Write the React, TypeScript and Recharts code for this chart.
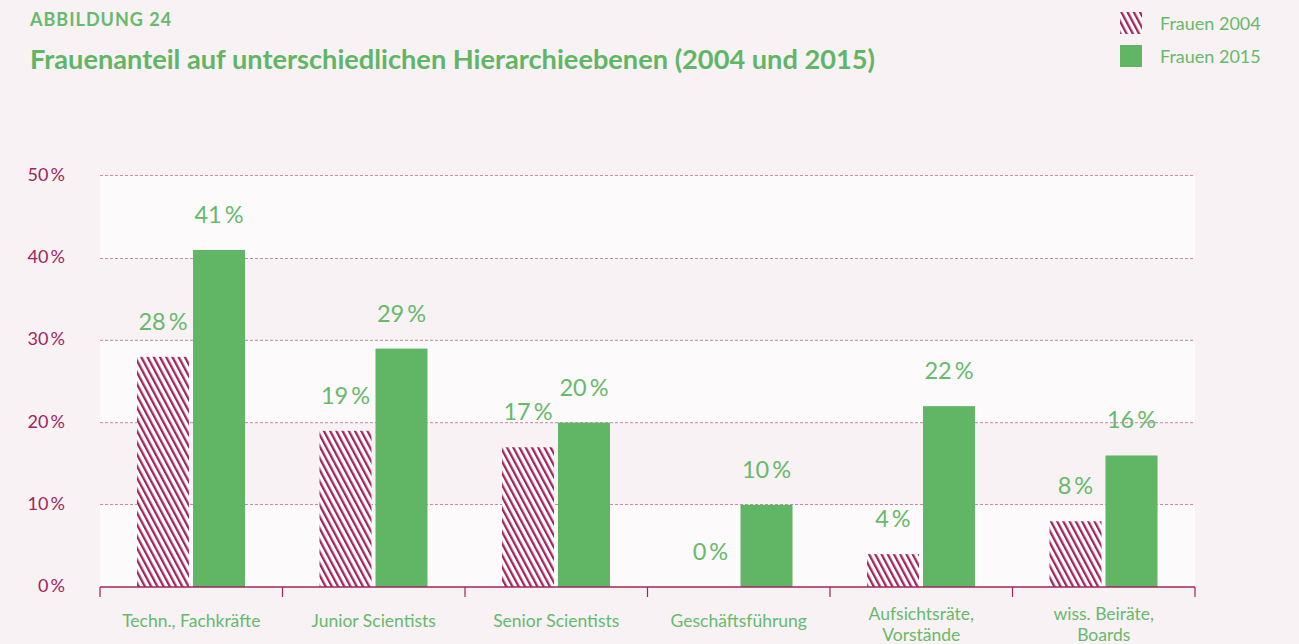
import React from 'react';
import {
  BarChart,
  Bar,
  XAxis,
  YAxis,
  CartesianGrid,
  ReferenceArea,
} from 'recharts';

const categories = [
  'Techn., Fachkräfte',
  'Junior Scientists',
  'Senior Scientists',
  'Geschäftsführung',
  'Aufsichtsräte,\nVorstände',
  'wiss. Beiräte,\nBoards',
];
const frauen2004 = [28, 19, 17, 0, 4, 8];
const frauen2015 = [41, 29, 20, 10, 22, 16];
const yTicks = [0, 10, 20, 30, 40, 50];
const lightBands: [number, number][] = [
  [0, 10],
  [20, 30],
  [40, 50],
];

const GREEN = '#60b664';
const GREEN_TEXT = '#66ba6a';
const MAGENTA = '#a2245c';
const BG = '#f8f2f5';
const BAND = '#fdfafc';
const FONT = 'Lato, "Noto Sans", sans-serif';

const W = 1299;
const H = 644;
const M = { top: 176, right: 104, bottom: 0, left: 0 };
const Y_AXIS_W = 100;
const PLOT_W = W - M.left - M.right - Y_AXIS_W;

const data = categories.map((name, i) => ({
  name,
  f2004: frauen2004[i],
  f2015: frauen2015[i],
}));

const pct = (v: number) => `${v}\u2009%`;

function CategoryTick(props: any) {
  const { x, y, payload, index, visibleTicksCount } = props;
  const band = PLOT_W / categories.length;
  const lines = String(payload.value).split('\n');
  const last = index === visibleTicksCount - 1;
  const startY = lines.length > 1 ? y + 33 : y + 40;
  return (
    <g>
      <line x1={x - band / 2} x2={x - band / 2} y1={y} y2={y + 10} stroke={MAGENTA} strokeWidth={1.2} />
      {last && (
        <line x1={x + band / 2} x2={x + band / 2} y1={y} y2={y + 10} stroke={MAGENTA} strokeWidth={1.2} />
      )}
      <text x={x} y={startY} textAnchor="middle" fill={GREEN_TEXT} fontSize={17.5} fontFamily={FONT}>
        {lines.map((l, i) => (
          <tspan key={i} x={x} dy={i === 0 ? 0 : 21}>
            {l}
          </tspan>
        ))}
      </text>
    </g>
  );
}

function YTick(props: any) {
  const { x, y, payload } = props;
  return (
    <text x={x} y={y} dy={5} textAnchor="end" fill={MAGENTA} fontSize={18} fontFamily={FONT}>
      {pct(payload.value)}
    </text>
  );
}

// bar + its value label drawn together, so a 0 value still gets its label
function LabeledBar(props: any) {
  const { x, y, width, height, fill, value } = props;
  const v = Array.isArray(value) ? value[1] - value[0] : value;
  return (
    <g>
      {height > 0 && <rect x={x} y={y} width={width} height={height} fill={fill} />}
      <text
        x={x + width / 2}
        y={y - 27}
        textAnchor="middle"
        fill={GREEN_TEXT}
        fontSize={23.5}
        fontFamily={FONT}
      >
        {pct(v)}
      </text>
    </g>
  );
}

function HatchSwatch() {
  return (
    <svg width={22} height={22} style={{ display: 'block' }}>
      <rect width={22} height={22} fill="url(#hatchLegend)" />
    </svg>
  );
}

export default function App() {
  return (
    <div
      style={{
        position: 'absolute',
        left: 0,
        top: 0,
        width: W,
        height: H,
        background: BG,
        fontFamily: FONT,
        overflow: 'hidden',
      }}
    >
      <svg width={0} height={0} style={{ position: 'absolute' }}>
        <defs>
          <pattern id="hatchLegend" patternUnits="userSpaceOnUse" width={5.5} height={5.5} patternTransform="rotate(-28)">
            <rect width={5.5} height={5.5} fill="#ffffff" />
            <rect width={2.3} height={5.5} fill={MAGENTA} />
          </pattern>
        </defs>
      </svg>
      <div
        style={{
          position: 'absolute',
          left: 30,
          top: 8,
          fontSize: 18,
          fontWeight: 700,
          letterSpacing: 1,
          color: GREEN_TEXT,
        }}
      >
        ABBILDUNG 24
      </div>
      <div
        style={{
          position: 'absolute',
          left: 30,
          top: 42,
          fontSize: 27.2,
          fontWeight: 700,
          color: GREEN,
        }}
      >
        Frauenanteil auf unterschiedlichen Hierarchieebenen (2004 und 2015)
      </div>
      <div style={{ position: 'absolute', left: 1120, top: 12 }}>
        <div style={{ display: 'flex', alignItems: 'center', height: 22 }}>
          <HatchSwatch />
          <span style={{ marginLeft: 18, fontSize: 18, color: GREEN_TEXT }}>Frauen 2004</span>
        </div>
        <div style={{ display: 'flex', alignItems: 'center', height: 22, marginTop: 11 }}>
          <div style={{ width: 22, height: 22, background: GREEN }} />
          <span style={{ marginLeft: 18, fontSize: 18, color: GREEN_TEXT }}>Frauen 2015</span>
        </div>
      </div>
      <BarChart
        width={W}
        height={H}
        data={data}
        margin={M}
        barSize={52}
        barGap={4}
        style={{ position: 'absolute', left: 0, top: 0 }}
      >
        <defs>
          <pattern id="hatch" patternUnits="userSpaceOnUse" width={5.5} height={5.5} patternTransform="rotate(-28)">
            <rect width={5.5} height={5.5} fill="#ffffff" />
            <rect width={2.3} height={5.5} fill={MAGENTA} />
          </pattern>
        </defs>
        {lightBands.map(([a, b]) => (
          <ReferenceArea key={a} y1={a} y2={b} fill={BAND} fillOpacity={1} stroke="none" />
        ))}
        <CartesianGrid
          vertical={false}
          stroke={MAGENTA}
          strokeDasharray="3 2"
          horizontalValues={[10, 20, 30, 40, 50]}
        />
        <XAxis
          dataKey="name"
          height={H - 587}
          axisLine={{ stroke: MAGENTA, strokeWidth: 1.5 }}
          tickLine={false}
          tickSize={0}
          tickMargin={0}
          interval={0}
          tick={<CategoryTick />}
        />
        <YAxis
          width={Y_AXIS_W}
          domain={[0, 50]}
          ticks={yTicks}
          axisLine={false}
          tickLine={false}
          tickSize={0}
          tickMargin={35}
          tick={<YTick />}
        />
        <Bar dataKey="f2004" fill="url(#hatch)" shape={<LabeledBar />} isAnimationActive={false} />
        <Bar dataKey="f2015" fill={GREEN} shape={<LabeledBar />} isAnimationActive={false} />
      </BarChart>
    </div>
  );
}
